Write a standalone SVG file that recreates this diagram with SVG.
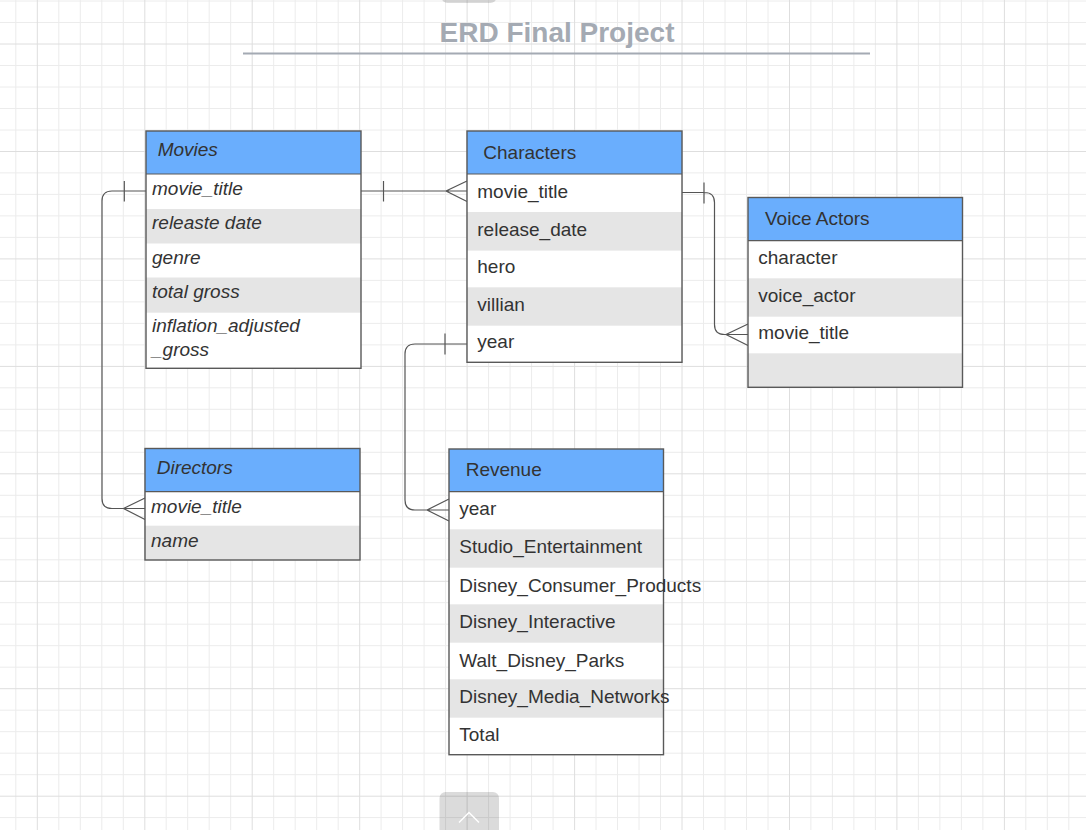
<svg xmlns="http://www.w3.org/2000/svg" width="1086" height="830" viewBox="0 0 1086 830">
<style>
.minor{stroke:#ececec;stroke-width:1;fill:none}
.major{stroke:#dedede;stroke-width:1;fill:none}
.body{fill:#ffffff}
.hdr{fill:#6aaefd}
.alt{fill:#e5e5e5}
.border{fill:none;stroke:#595959;stroke-width:1.4}
.sep{stroke:#595959;stroke-width:1.2}
.t{font-family:"Liberation Sans",Arial,sans-serif;font-size:19px;fill:#333333}
.i{font-style:italic}
.conn{fill:none;stroke:#555555;stroke-width:1.2}
.title{font-family:"Liberation Sans",Arial,sans-serif;font-size:28px;font-weight:bold;fill:#a4aab3}
</style>
<rect x="0" y="0" width="1086" height="830" fill="#ffffff"/>
<g id="grid">
<path class="minor" d="M15.8 0V830M58.8 0V830M80.3 0V830M101.8 0V830M123.3 0V830M166.2 0V830M187.7 0V830M209.2 0V830M230.7 0V830M273.7 0V830M295.2 0V830M316.7 0V830M338.2 0V830M381.1 0V830M402.6 0V830M424.1 0V830M445.6 0V830M488.6 0V830M510.1 0V830M531.6 0V830M553.1 0V830M596 0V830M617.5 0V830M639 0V830M660.5 0V830M703.5 0V830M725 0V830M746.5 0V830M768 0V830M810.9 0V830M832.4 0V830M853.9 0V830M875.4 0V830M918.4 0V830M939.9 0V830M961.4 0V830M982.9 0V830M1025.8 0V830M1047.3 0V830M1068.8 0V830
M0 1H1086M0 22.5H1086M0 65.5H1086M0 87H1086M0 108.5H1086M0 130H1086M0 172.9H1086M0 194.4H1086M0 215.9H1086M0 237.4H1086M0 280.4H1086M0 301.9H1086M0 323.4H1086M0 344.9H1086M0 387.8H1086M0 409.3H1086M0 430.8H1086M0 452.3H1086M0 495.3H1086M0 516.8H1086M0 538.3H1086M0 559.8H1086M0 602.7H1086M0 624.2H1086M0 645.7H1086M0 667.2H1086M0 710.2H1086M0 731.7H1086M0 753.2H1086M0 774.7H1086M0 817.6H1086"/>
<path class="major" d="M37.3 0V830M144.8 0V830M252.2 0V830M359.7 0V830M467.1 0V830M574.6 0V830M682 0V830M789.5 0V830M896.9 0V830M1004.4 0V830
M0 44H1086M0 151.5H1086M0 258.9H1086M0 366.4H1086M0 473.8H1086M0 581.3H1086M0 688.7H1086M0 796.2H1086"/>
</g>
<g id="tabs">
<rect x="441.5" y="-12" width="55" height="15" rx="6" fill="#000000" fill-opacity="0.14"/>
<rect x="439.5" y="792" width="59.5" height="50" rx="6" fill="#000000" fill-opacity="0.14"/>
<polyline points="459,822.5 469,812.5 479,822.5" fill="none" stroke="#ffffff" stroke-width="1.5"/>
</g>
<g id="title">
<text class="title" x="557" y="42.3" text-anchor="middle">ERD Final Project</text>
<line x1="243" y1="53.5" x2="870" y2="53.5" stroke="#a4aab3" stroke-width="2"/>
</g>
<g id="connectors">
<path class="conn" d="M361 191H467M383.5 181V201.5M467 181L446 191L467 201.5"/>
<path class="conn" d="M146 191H112Q102 191 102 201V498.5Q102 508.5 112 508.5H145M124.3 181V201.5M145 498L123.5 508.5L145 519.5"/>
<path class="conn" d="M682 192.5H704.5Q714.5 192.5 714.5 202.5V324.5Q714.5 334.5 724.5 334.5H748M704 182.5V203.5M748 324L726 334.5L748 345.5"/>
<path class="conn" d="M467 344H415Q405 344 405 354V500Q405 510 415 510H449M445 333.5V354.5M449 499L427 510L449 521"/>
</g>
<g id="movies">
<rect class="body" x="146" y="131" width="215" height="237.3"/>
<rect class="hdr" x="146" y="131" width="215" height="43"/>
<rect class="alt" x="146" y="209" width="215" height="34.5"/>
<rect class="alt" x="146" y="277.5" width="215" height="35.2"/>
<line class="sep" x1="146" y1="174" x2="361" y2="174"/>
<rect class="border" x="146" y="131" width="215" height="237.3"/>
<text class="t i" x="157.7" y="155.7">Movies</text>
<text class="t i" x="152" y="195">movie_title</text>
<text class="t i" x="152" y="229.3">releaste date</text>
<text class="t i" x="152" y="264.3">genre</text>
<text class="t i" x="152" y="298.3">total gross</text>
<text class="t i" x="152" y="332.3">inflation_adjusted</text>
<text class="t i" x="152" y="355.7">_gross</text>
</g>
<g id="directors">
<rect class="body" x="145" y="448.5" width="215" height="111.5"/>
<rect class="hdr" x="145" y="448.5" width="215" height="43.2"/>
<rect class="alt" x="145" y="525.7" width="215" height="34.3"/>
<line class="sep" x1="145" y1="491.7" x2="360" y2="491.7"/>
<rect class="border" x="145" y="448.5" width="215" height="111.5"/>
<text class="t i" x="156.7" y="474.3">Directors</text>
<text class="t i" x="151" y="512.7">movie_title</text>
<text class="t i" x="151" y="546.7">name</text>
</g>
<g id="characters">
<rect class="body" x="467" y="131" width="215" height="231.3"/>
<rect class="hdr" x="467" y="131" width="215" height="43"/>
<rect class="alt" x="467" y="212" width="215" height="38.6"/>
<rect class="alt" x="467" y="287.3" width="215" height="38.4"/>
<line class="sep" x1="467" y1="174" x2="682" y2="174"/>
<rect class="border" x="467" y="131" width="215" height="231.3"/>
<text class="t" x="483.3" y="159">Characters</text>
<text class="t" x="477.3" y="197.7">movie_title</text>
<text class="t" x="477.3" y="235.7">release_date</text>
<text class="t" x="477.3" y="273.3">hero</text>
<text class="t" x="477.3" y="311">villian</text>
<text class="t" x="477.3" y="348.3">year</text>
</g>
<g id="voice-actors">
<rect class="body" x="748" y="197.5" width="214.5" height="189.8"/>
<rect class="hdr" x="748" y="197.5" width="214.5" height="43.2"/>
<rect class="alt" x="748" y="278.3" width="214.5" height="38.4"/>
<rect class="alt" x="748" y="353.3" width="214.5" height="34"/>
<line class="sep" x1="748" y1="240.7" x2="962.5" y2="240.7"/>
<rect class="border" x="748" y="197.5" width="214.5" height="189.8"/>
<text class="t" x="765" y="225">Voice Actors</text>
<text class="t" x="758.3" y="264">character</text>
<text class="t" x="758.3" y="302.3">voice_actor</text>
<text class="t" x="758.3" y="339">movie_title</text>
</g>
<g id="revenue">
<rect class="body" x="449" y="449" width="214.5" height="305.7"/>
<rect class="hdr" x="449" y="449" width="214.5" height="42.7"/>
<rect class="alt" x="449" y="529.3" width="214.5" height="38.4"/>
<rect class="alt" x="449" y="604.3" width="214.5" height="38.4"/>
<rect class="alt" x="449" y="679.3" width="214.5" height="38.4"/>
<line class="sep" x1="449" y1="491.7" x2="663.5" y2="491.7"/>
<rect class="border" x="449" y="449" width="214.5" height="305.7"/>
<text class="t" x="465.7" y="476">Revenue</text>
<text class="t" x="459.3" y="515.3">year</text>
<text class="t" x="459.3" y="553.3">Studio_Entertainment</text>
<text class="t" x="459.3" y="591.7">Disney_Consumer_Products</text>
<text class="t" x="459.3" y="628.3">Disney_Interactive</text>
<text class="t" x="459.3" y="666.7">Walt_Disney_Parks</text>
<text class="t" x="459.3" y="703.3">Disney_Media_Networks</text>
<text class="t" x="459.3" y="741">Total</text>
</g>
</svg>
